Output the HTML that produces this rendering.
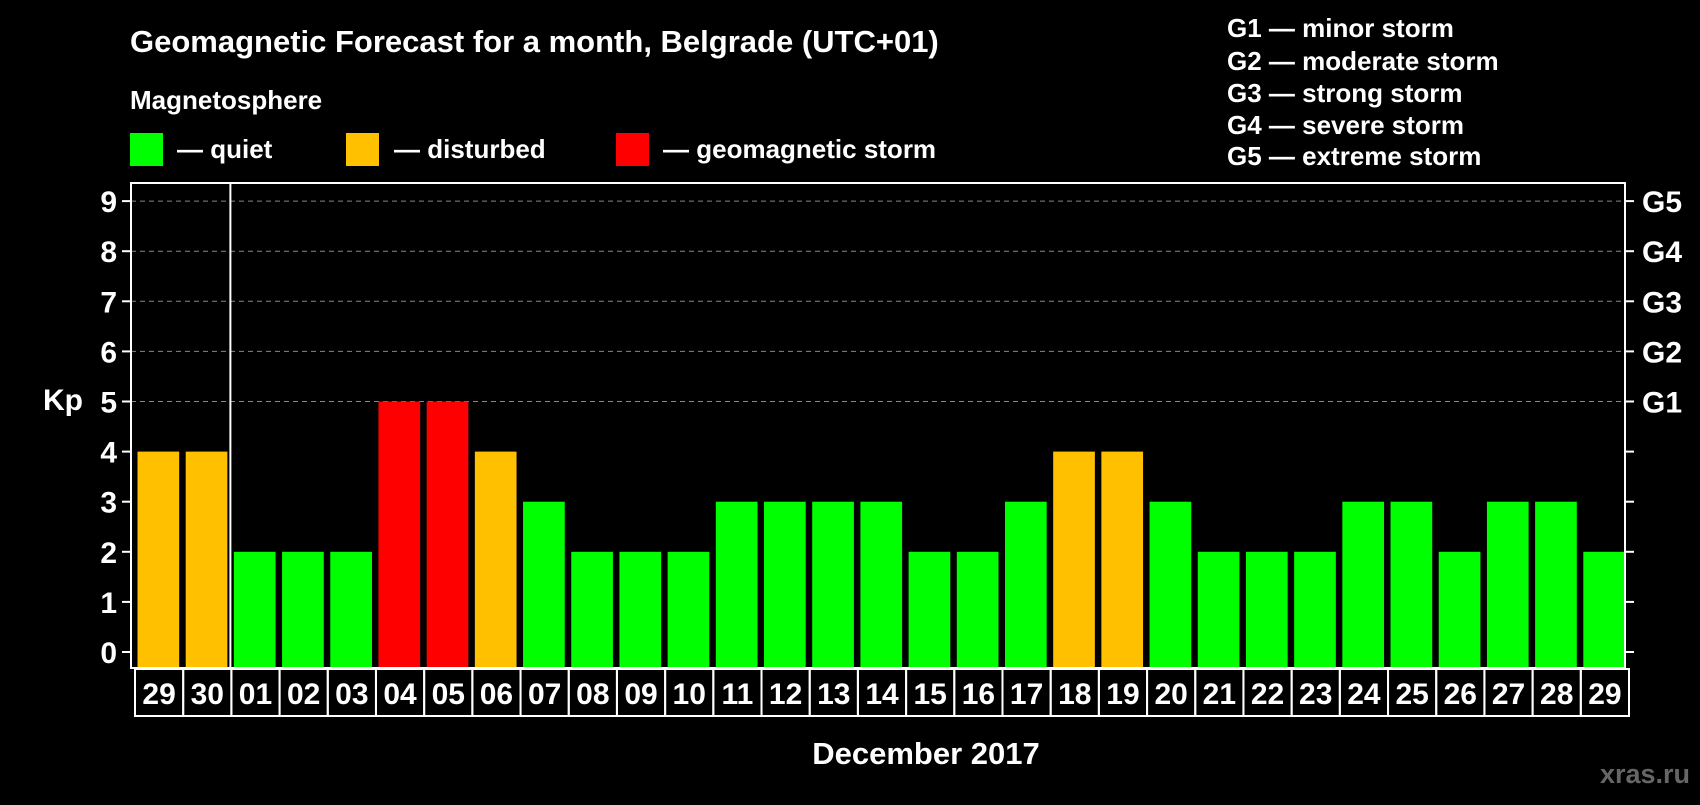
<!DOCTYPE html>
<html><head><meta charset="utf-8"><style>
body{margin:0;background:#000;width:1700px;height:800px;overflow:hidden;font-family:"Liberation Sans",sans-serif;}
svg text{font-family:"Liberation Sans",sans-serif;font-weight:bold;fill:#fff;}
</style></head><body>
<svg width="1700" height="800">
<text x="130" y="52" font-size="31">Geomagnetic Forecast for a month, Belgrade (UTC+01)</text>
<text x="130" y="109" font-size="26">Magnetosphere</text>
<rect x="130" y="133" width="33" height="33" fill="#00ff00"/>
<text x="177" y="158" font-size="26">— quiet</text>
<rect x="346" y="133" width="33" height="33" fill="#ffc000"/>
<text x="394" y="158" font-size="26">— disturbed</text>
<rect x="616" y="133" width="33" height="33" fill="#ff0000"/>
<text x="663" y="158" font-size="26">— geomagnetic storm</text>
<g font-size="26">
<text x="1227" y="37">G1 — minor storm</text>
<text x="1227" y="70">G2 — moderate storm</text>
<text x="1227" y="102">G3 — strong storm</text>
<text x="1227" y="134">G4 — severe storm</text>
<text x="1227" y="165">G5 — extreme storm</text>
</g>
<text x="43" y="410" font-size="30">Kp</text>
<text x="926" y="764" font-size="31" text-anchor="middle">December 2017</text>
<text x="1690" y="783" font-size="27" text-anchor="end" style="fill:#666">xras.ru</text>
<g id="plot"></g>
</svg>
<script>
const days=["29","30","01","02","03","04","05","06","07","08","09","10","11","12","13","14","15","16","17","18","19","20","21","22","23","24","25","26","27","28","29"];
const kp=[4,4,2,2,2,5,5,4,3,2,2,2,3,3,3,3,2,2,3,4,4,3,2,2,2,3,3,2,3,3,2];
const yTicks=[0,1,2,3,4,5,6,7,8,9];
const gLabels=["","","","","","G1","G2","G3","G4","G5"];
const L=131,R=1625,T=183,B=668;
const slot=(R-L)/days.length;
const y=v=>652-v*50.1;
const xs=i=>L+i*slot;
const g=document.getElementById('plot');
const NS="http://www.w3.org/2000/svg";
function mk(t,a){const e=document.createElementNS(NS,t);for(const k in a)e.setAttribute(k,a[k]);g.appendChild(e);return e;}
yTicks.forEach((v,i)=>{
 if(v>=5){const l=mk('line',{x1:L,x2:R,y1:y(v),y2:y(v),stroke:'#888','stroke-dasharray':'5,4','stroke-width':1});
 
 }
 const t1=mk('line',{x1:L-9,x2:L,y1:y(v),y2:y(v),stroke:'#fff','stroke-width':2});
 
 
 const t2=mk('line',{x1:R,x2:R+9,y1:y(v),y2:y(v),stroke:'#fff','stroke-width':2});
 
 
 const lb=mk('text',{x:L-14,y:y(v)+11,'font-size':30,'text-anchor':'end'});lb.textContent=v;
 
 
 if(gLabels[i]){const gl=mk('text',{x:R+17,y:y(v)+11,'font-size':30});gl.textContent=gLabels[i];
 
 }
});
kp.forEach((v,i)=>{
 const c=v>=5?'#ff0000':v>=4?'#ffc000':'#00ff00';
 const b=mk('rect',{x:xs(i)+6.5,y:y(v),width:slot-6.5,height:B-y(v),fill:c});
 
 
 const cell=mk('rect',{x:xs(i)+4,y:B+1,width:slot,height:47,fill:'none',stroke:'#fff','stroke-width':2});
 
 
 const t=mk('text',{x:xs(i)+4+slot/2,y:B+36,'font-size':30,'text-anchor':'middle'});t.textContent=days[i];
 
 
});
const box=mk('rect',{x:L,y:T,width:R-L,height:B-T,fill:'none',stroke:'#fff','stroke-width':2});


const sep=mk('line',{x1:xs(2)+3,x2:xs(2)+3,y1:T,y2:B,stroke:'#fff','stroke-width':2});


</script>
</body></html>
